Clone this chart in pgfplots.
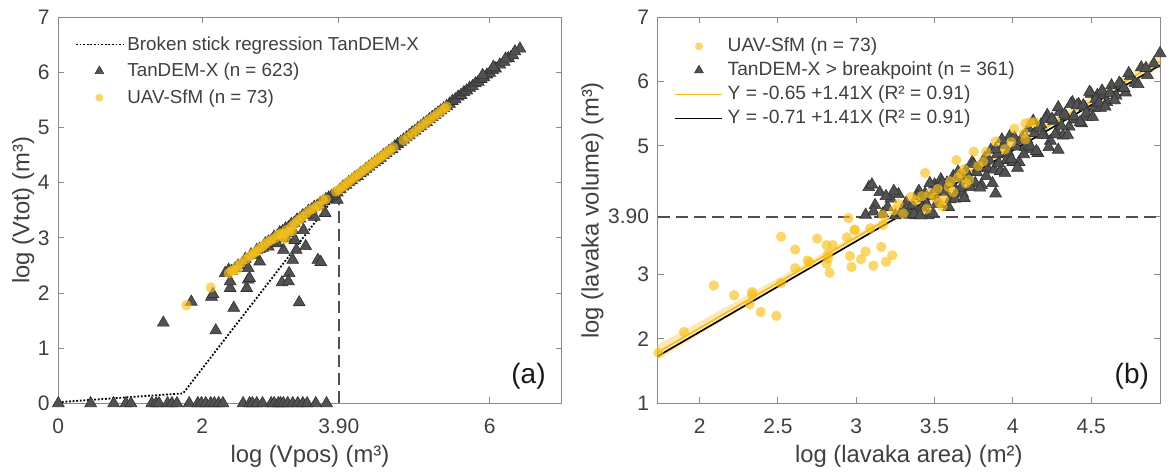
\documentclass[border=0pt]{standalone}
\usepackage{fontspec}
\setmainfont{Liberation Sans}
\usepackage{pgfplots}
\pgfplotsset{compat=1.18}
\definecolor{txt}{HTML}{404040}
\definecolor{axl}{HTML}{8A8A8A}
\definecolor{tri}{HTML}{525252}
\definecolor{triedge}{HTML}{303030}
\definecolor{uav}{HTML}{F7C01B}
\definecolor{uavline}{HTML}{F2BB1A}
\definecolor{band}{HTML}{F9D77A}
\definecolor{dashcol}{HTML}{505050}

\pgfplotsset{
  common/.style={
    scale only axis,
    height=193pt,
    axis line style={axl, line width=0.5pt},
    every tick/.style={axl, line width=0.5pt},
    major tick length=3pt,
    tick align=inside,
    clip=false,
    /pgf/number format/assume math mode=true,
    every tick label/.append style={font=\fontsize{10.5}{12}\selectfont, text=txt},
    xticklabel shift=4.4pt,
    yticklabel shift=0.8pt,
    label style={font=\fontsize{11.9}{14}\selectfont, text=txt},
    legend cell align=left,
  },
  scatleg/.style={legend image code/.code={\draw[mark repeat=2,mark phase=2,##1] plot coordinates {(0pt,0pt) (11.75pt,0pt) (23.5pt,0pt)};}},
  lineleg/.style={legend image code/.code={\draw[##1] (0pt,0pt) -- (23.5pt,0pt);}},
  tristyle/.style={only marks, color=tri, mark=triangle*, mark size=3.4pt, mark options={fill=tri, draw=triedge, line width=0.3pt}},
  uavstyle/.style={only marks, color=uav, mark=*, mark size=2.6pt, mark options={fill=uav, draw=uav, draw opacity=0, fill opacity=0.65}},
  trileg/.style={only marks, color=tri, mark=triangle*, mark size=2.5pt, mark options={fill=tri, draw=triedge, line width=0.3pt}},
  uavleg/.style={only marks, color=uav, mark=*, mark size=2.0pt, mark options={fill=uav, draw=uav, draw opacity=0, fill opacity=0.65}},
}

\begin{document}
\begin{tikzpicture}
\useasboundingbox (0,0) rectangle (587pt,236.5pt);

% ---------------- panel (a) ----------------
\begin{axis}[common,
  at={(29.15pt,34.85pt)}, anchor=south west,
  width=251.7pt,
  xmin=0, xmax=7, ymin=0, ymax=7,
  xtick={0,2,3.9,6}, xticklabels={0,2,3.90,6},
  ytick={0,1,2,3,4,5,6,7},
  xlabel={log (Vpos) (m³)},
  ylabel={log (Vtot) (m³)},
  xlabel style={at={(axis description cs:0.5,-0.1383)}, anchor=center},
  ylabel style={at={(axis description cs:-0.0699,0.5)}, anchor=center},
  legend style={draw=none, fill=none, inner sep=0pt, outer sep=0pt,
    at={(axis description cs:0.0332,0.964)}, anchor=north west,
    font=\fontsize{9.4}{11}\selectfont, text=txt,
    row sep=0pt, column sep=1.8pt,
    nodes={inner sep=0pt, text height=9.4pt, text depth=3.9pt}},
]
\addlegendimage{lineleg, black, line width=0.9pt, dash pattern=on 0.9pt off 0.9pt}
\addlegendentry{Broken stick regression TanDEM-X}
\addlegendimage{scatleg, trileg}
\addlegendentry{TanDEM-X (n = 623)}
\addlegendimage{scatleg, uavleg}
\addlegendentry{UAV-SfM (n = 73)}

% vertical dashed line at breakpoint
\addplot[forget plot, dashcol, line width=0.8pt, dash pattern=on 6pt off 3pt] coordinates {(3.9,0) (3.9,3.75)};

% TanDEM-X
\addplot[forget plot, tristyle] coordinates {
(0,0) (0.45,0) (0.77,0) (0.94,0) (1.01,0) (1.30,0) (1.36,0) (1.40,0) (1.52,0) (1.58,0) (1.65,0)
(1.82,0) (1.94,0) (1.99,0) (2.05,0) (2.12,0) (2.17,0) (2.23,0) (2.29,0) (2.57,0) (2.66,0) (2.70,0)
(2.76,0) (2.84,0) (2.96,0) (3.00,0) (3.06,0) (3.09,0) (3.13,0) (3.19,0) (3.26,0) (3.33,0) (3.40,0)
(3.46,0) (3.58,0) (3.73,0)
(1.46,1.46) (1.85,1.84) (2.13,1.93) (2.15,1.98) (2.19,1.32) (2.39,2.09) (2.39,2.21) (2.44,1.73)
(2.62,2.09) (2.64,2.24) (2.66,2.27) (2.80,2.57) (3.11,2.19) (3.21,2.36) (3.20,2.21) (3.35,1.83)
(3.44,2.85) (3.61,2.60) (3.65,2.56) (3.26,2.60) (3.31,2.78) (3.13,2.78) (3.17,2.99) (3.24,3.08)
(3.29,2.96) (3.26,3.14) (3.41,3.14) (3.56,3.38) (3.71,3.45) (3.88,3.69) (2.92,2.84) (3.04,2.90)
(2.32,2.36) (2.37,2.42) (2.41,2.40) (2.46,2.45) (2.50,2.50) (2.55,2.52) (2.60,2.62) (2.64,2.45)
(2.68,2.70) (2.72,2.68) (2.76,2.78) (2.80,2.80) (2.84,2.82) (2.88,2.90) (2.92,2.93) (2.96,2.95)
(3.00,3.02) (3.04,3.03) (3.08,3.10) (3.12,3.12) (3.16,3.17) (3.20,3.19) (3.24,3.25) (3.28,3.27)
(3.32,3.33) (3.36,3.35) (3.40,3.41) (3.44,3.43) (3.48,3.49) (3.52,3.51) (3.56,3.56) (3.60,3.58)
(3.64,3.63) (3.68,3.66) (3.72,3.70) (3.76,3.73) (3.80,3.76) (3.84,3.79) (3.88,3.82)
(3.92,3.88) (3.96,3.93) (4.00,3.96) (4.04,4.01) (4.08,4.04) (4.12,4.09) (4.16,4.12) (4.20,4.17)
(4.24,4.20) (4.28,4.25) (4.32,4.29) (4.36,4.33) (4.40,4.37) (4.44,4.41) (4.48,4.45) (4.52,4.50)
(4.56,4.53) (4.60,4.58) (4.64,4.61) (4.68,4.66) (4.72,4.70) (4.76,4.74) (4.80,4.78) (4.84,4.82)
(4.88,4.86) (4.92,4.91) (4.96,4.94) (5.00,4.99) (5.04,5.02) (5.08,5.07) (5.12,5.10) (5.16,5.15)
(5.20,5.19) (5.24,5.23) (5.28,5.27) (5.32,5.31) (5.36,5.35) (5.40,5.39) (5.44,5.43) (5.48,5.48)
(5.52,5.51) (5.56,5.56) (5.60,5.59) (5.64,5.64) (5.68,5.67) (5.72,5.72) (5.76,5.75) (5.80,5.80)
(5.84,5.83) (5.88,5.88) (5.92,5.91) (5.96,5.96) (6.00,5.99) (6.04,6.04) (6.08,6.07) (6.14,6.14)
(6.20,6.19) (6.26,6.26) (6.32,6.31) (6.42,6.43) (6.05,6.10) (6.22,6.25) (5.90,5.95) (6.35,6.38)
};

% UAV-SfM
\addplot[forget plot, uavstyle] coordinates {
(1.78,1.78) (2.12,2.10) (2.37,2.36) (2.41,2.40) (2.44,2.42) (2.48,2.42) (2.50,2.50) (2.54,2.54)
(2.60,2.61) (2.65,2.66) (2.69,2.69) (2.72,2.73) (2.76,2.76) (2.80,2.81) (2.84,2.84) (2.88,2.89)
(2.92,2.93) (2.96,2.96) (3.01,2.99) (3.05,3.05) (3.09,3.08) (3.12,3.02) (3.13,3.08) (3.15,2.98)
(3.17,3.14) (3.21,3.11) (3.24,3.20) (3.25,3.12) (3.28,3.25) (3.32,3.30) (3.36,3.34) (3.40,3.39)
(3.45,3.44) (3.50,3.50) (3.55,3.53) (3.60,3.58) (3.63,3.58) (3.68,3.69) (3.72,3.70) (3.86,3.84)
(3.90,3.87) (3.94,3.92) (3.98,3.95) (4.02,4.00) (4.06,4.04) (4.10,4.08) (4.14,4.12) (4.18,4.16)
(4.22,4.20) (4.26,4.24) (4.30,4.28) (4.34,4.32) (4.38,4.36) (4.42,4.40) (4.46,4.44) (4.50,4.48)
(4.54,4.52) (4.58,4.56) (4.62,4.60) (4.66,4.64) (4.80,4.77) (4.86,4.83) (4.92,4.89) (4.97,4.94)
(5.02,5.00) (5.07,5.05) (5.12,5.10) (5.17,5.15) (5.22,5.20) (5.27,5.25) (5.32,5.30) (5.37,5.35)
(5.40,5.38)
};

% broken stick regression
\addplot[forget plot, black, line width=0.9pt, dash pattern=on 0.9pt off 0.9pt] coordinates {
(0,0.02) (1.735,0.18) (3.9,3.84) (6.35,6.44)
};

\node[anchor=east, inner sep=0pt, font=\fontsize{14}{16}\selectfont, text=black!90] at (rel axis cs:1,0) [xshift=-7.85pt, yshift=13.3pt] {(a)};
\end{axis}

% ---------------- panel (b) ----------------
\begin{axis}[common,
  at={(328.85pt,34.85pt)}, anchor=south west,
  width=251.15pt,
  xmin=1.732, xmax=4.94, ymin=1, ymax=7,
  xtick={2,2.5,3,3.5,4,4.5}, xticklabels={2,2.5,3,3.5,4,4.5},
  ytick={1,2,3,3.9,5,6,7}, yticklabels={1,2,3,3.90,5,6,7},
  xlabel={log (lavaka area) (m²)},
  ylabel={log (lavaka volume) (m³)},
  xlabel style={at={(axis description cs:0.5,-0.1383)}, anchor=center},
  ylabel style={at={(axis description cs:-0.1298,0.5)}, anchor=center},
  legend style={draw=none, fill=none, inner sep=0pt, outer sep=0pt,
    at={(axis description cs:0.0338,0.956)}, anchor=north west,
    font=\fontsize{9.6}{11}\selectfont, text=txt,
    row sep=0pt, column sep=2.2pt,
    nodes={inner sep=0pt, text height=8.7pt, text depth=3.3pt}},
]
\addlegendimage{scatleg, uavleg}
\addlegendentry{UAV-SfM (n = 73)}
\addlegendimage{scatleg, trileg}
\addlegendentry{TanDEM-X > breakpoint (n = 361)}
\addlegendimage{lineleg, uavline, line width=0.8pt}
\addlegendentry{Y = -0.65 +1.41X (R² = 0.91)}
\addlegendimage{lineleg, black, line width=0.8pt}
\addlegendentry{Y = -0.71 +1.41X (R² = 0.91)}

% horizontal dashed line at breakpoint
\addplot[forget plot, dashcol, line width=0.8pt, dash pattern=on 6pt off 3pt] coordinates {(1.732,3.9) (4.94,3.9)};

% confidence band
\addplot[forget plot, fill=band, fill opacity=0.55, draw=none] coordinates {
(1.732,1.912) (2.0,2.27) (2.5,2.945) (3.0,3.625) (3.5,4.325) (4.0,5.045) (4.5,5.775) (4.94,6.42)
(4.94,6.21) (4.5,5.615) (4.0,4.935) (3.5,4.245) (3.0,3.535) (2.5,2.805) (2.0,2.07) (1.732,1.672)
};

% TanDEM-X > breakpoint
\addplot[forget plot, tristyle] coordinates {
(3.06,3.93) (3.08,4.36) (3.12,4.08) (3.15,4.28) (3.17,3.95) (3.20,4.05) (3.22,4.18) (3.25,3.92)
(3.27,4.25) (3.30,4.02) (3.32,4.12) (3.34,3.93) (3.11,3.98) (3.24,4.30) (3.29,3.96) (3.19,4.22)
(3.36,4.08) (3.38,3.92) (3.40,4.30) (3.42,4.04) (3.44,4.26) (3.46,3.92) (3.48,4.22) (3.50,4.40)
(3.52,4.13) (3.54,4.48) (3.56,4.28) (3.58,4.43) (3.60,4.17) (3.62,4.53) (3.64,4.27) (3.66,4.51)
(3.68,4.26) (3.70,4.61) (3.72,4.46) (3.74,4.75) (3.76,4.42) (3.78,4.66) (3.80,4.39) (3.82,4.81)
(3.84,4.65) (3.86,4.94) (3.88,4.63) (3.90,4.87) (3.92,4.61) (3.94,5.01) (3.96,4.78) (3.98,5.15)
(4.00,4.75) (4.02,4.99) (4.04,4.75) (4.06,5.13) (4.08,4.98) (4.10,5.27) (4.12,4.95) (4.14,5.20)
(4.16,4.89) (4.18,5.33) (4.20,5.17) (4.22,5.48) (4.24,5.08) (4.26,5.39) (4.28,5.21) (4.30,5.53)
(4.32,5.16) (4.34,5.46) (4.36,5.30) (4.38,5.68) (4.40,5.41) (4.42,5.65) (4.44,5.35) (4.46,5.60)
(4.48,5.45) (4.50,5.81) (4.52,5.59) (4.54,5.79) (4.56,5.59) (4.58,5.79) (4.60,5.68) (4.63,5.94)
(4.66,5.78) (4.69,5.96) (4.72,5.83) (4.75,6.09) (4.78,5.98) (4.82,6.22) (4.86,6.10) (4.90,6.28)
(4.94,6.44)
(3.37,3.94) (3.39,4.22) (3.41,3.92) (3.43,4.19) (3.45,4.09) (3.47,4.42) (3.49,3.95) (3.51,4.33)
(3.53,4.10) (3.55,4.43) (3.57,4.28) (3.59,4.05) (3.61,4.42) (3.63,4.18) (3.65,4.60) (3.67,4.35)
(3.69,4.19) (3.71,4.55) (3.73,4.36) (3.75,4.72) (3.77,4.59) (3.79,4.35) (3.81,4.74) (3.83,4.53)
(3.85,4.77) (3.87,4.42) (3.89,4.95) (3.91,4.73) (3.93,5.10) (3.95,4.58) (3.97,4.90) (3.99,4.80)
(4.01,5.13) (4.03,4.66) (4.05,5.08) (4.07,4.87) (4.09,5.10) (4.11,5.00) (4.13,5.39) (4.15,4.92)
(4.17,5.28) (4.19,5.17) (4.21,5.42) (4.23,4.98) (4.25,5.42) (4.27,5.18) (4.29,5.60) (4.31,5.31)
(4.33,5.49) (4.35,5.17) (4.37,5.65) (4.39,5.46) (4.41,5.63) (4.43,5.37) (4.45,5.63) (4.47,5.51)
(4.49,5.84) (4.51,5.45) (4.53,5.73) (4.55,5.67) (4.57,5.86) (4.59,5.61) (4.62,5.82) (4.65,5.71)
(4.68,5.98) (4.71,5.90) (4.74,6.13) (4.80,5.96) (4.85,6.21)
(4.29,4.94) (3.89,4.26) (3.10,4.40)
};

% UAV-SfM
\addplot[forget plot, uavstyle] coordinates {
(1.737,1.787) (1.90,2.11) (2.09,2.83) (2.22,2.68) (2.335,2.73) (2.335,2.69) (2.32,2.54) (2.39,2.42)
(2.49,2.36) (2.52,2.87) (2.52,3.59) (2.61,3.39) (2.61,3.10) (2.69,3.22) (2.70,3.19) (2.75,3.56)
(2.81,3.46) (2.85,3.46) (2.82,3.32) (2.81,3.17) (2.83,3.03) (2.94,3.58) (2.96,3.29) (2.97,3.12)
(2.99,3.69) (3.03,3.24) (3.06,3.36) (3.11,3.14) (3.16,3.43) (3.19,3.20) (3.23,3.30) (2.82,3.25)
(2.95,3.88) (2.99,3.70) (3.09,3.72) (3.17,3.77) (3.17,3.93) (3.24,4.00) (3.27,4.10) (3.35,4.21)
(3.44,4.58) (3.47,4.26) (3.45,4.02) (3.52,4.33) (3.55,4.06) (3.56,4.17) (3.59,4.36) (3.62,4.28)
(3.64,4.78) (3.67,4.57) (3.70,4.42) (3.72,4.47) (3.75,4.91) (3.81,4.76) (3.83,4.91) (3.89,5.07)
(3.99,5.06) (4.01,5.27) (4.07,5.20) (4.08,5.35) (4.11,5.37) (4.14,5.37) (4.08,5.10) (3.53,4.12)
(3.65,4.51) (3.38,4.15) (3.60,4.45) (3.50,4.20) (3.69,4.64) (3.78,4.69) (3.95,4.95) (3.30,3.95)
(3.42,4.22)
};

% regression lines
\addplot[forget plot, uavline, line width=0.8pt] coordinates {(1.732,1.792) (4.94,6.315)};
\addplot[forget plot, black, line width=0.8pt] coordinates {(1.732,1.732) (4.94,6.255)};

\node[anchor=east, inner sep=0pt, font=\fontsize{14}{16}\selectfont, text=black!90] at (rel axis cs:1,0) [xshift=-5.35pt, yshift=13.3pt] {(b)};
\end{axis}
\end{tikzpicture}
\end{document}
